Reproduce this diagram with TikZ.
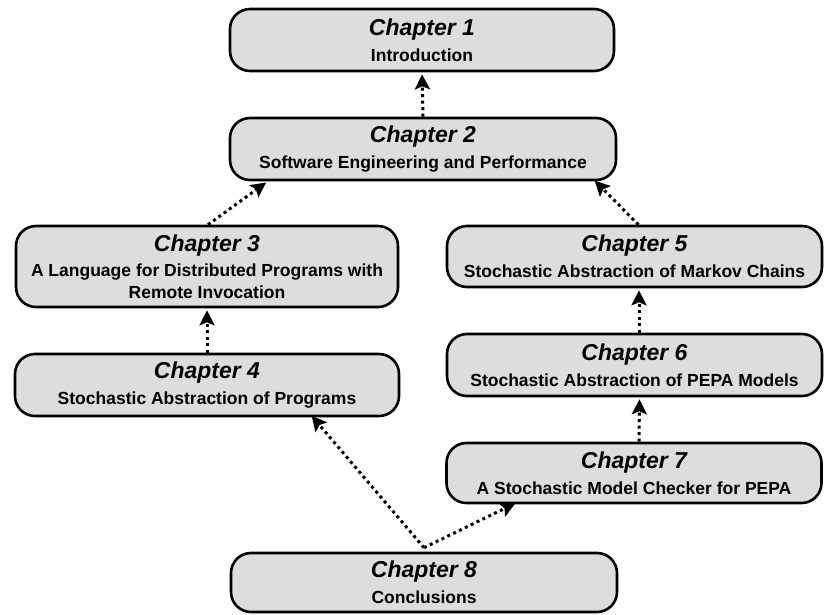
\documentclass[tikz,border=0pt]{standalone}
\usepackage{fontspec}
\setmainfont{Liberation Sans}
\usetikzlibrary{arrows.meta}
\definecolor{boxfill}{RGB}{221,221,221}
\newcommand\chaphead[1]{{\fontsize{23}{26}\selectfont\bfseries\itshape #1}}
\tikzset{
  chapbox/.style={draw=black, line width=2.6pt, rounded corners=20pt, fill=boxfill,
    align=center, inner sep=0pt, minimum width=#1,
    font=\fontsize{17.5}{22}\selectfont\bfseries},
  link/.style={line width=3pt, dash pattern=on 3pt off 3.5pt, shorten >=2pt,
    -{Stealth[length=15pt,width=15pt,inset=3pt]}},
}
\begin{document}
\begin{tikzpicture}[x=1pt,y=-1pt]
  \useasboundingbox (0,0) rectangle (824,614);
  % chapter boxes
  \node[chapbox=384, minimum height=62] (ch1) at (422,40)
    {\chaphead{Chapter 1}\\[4pt] Introduction};
  \node[chapbox=386, minimum height=62] (ch2) at (423,149)
    {\chaphead{Chapter 2}\\[4pt] Software Engineering and Performance};
  \node[chapbox=382, minimum height=81] (ch3) at (207,266.5)
    {\chaphead{Chapter 3}\\[3pt] A Language for Distributed Programs with\\ Remote Invocation};
  \node[chapbox=384, minimum height=62] (ch4) at (207,385)
    {\chaphead{Chapter 4}\\[4pt] Stochastic Abstraction of Programs};
  \node[chapbox=375, minimum height=61] (ch5) at (634.5,256.5)
    {\chaphead{Chapter 5}\\[4pt] Stochastic Abstraction of Markov Chains};
  \node[chapbox=375, minimum height=62] (ch6) at (634.5,365)
    {\chaphead{Chapter 6}\\[4pt] Stochastic Abstraction of PEPA Models};
  \node[chapbox=375, minimum height=60] (ch7) at (634,473)
    {\chaphead{Chapter 7}\\[4pt] A Stochastic Model Checker for PEPA};
  \node[chapbox=386, minimum height=59] (ch8) at (424,582.5)
    {\chaphead{Chapter 8}\\[4pt] Conclusions};
  % dependencies between chapters
  \coordinate (fork) at ([yshift=4pt]ch8.north);
  \draw[link] (ch2.north) -- (ch1.south);
  \draw[link] ([xshift=1pt]ch3.north) -- ([xshift=39pt]ch2.south west);
  \draw[link] ([xshift=4pt]ch5.north) -- ([xshift=-24pt,yshift=2pt]ch2.south east);
  \draw[link] (ch4.north) -- (ch3.south);
  \draw[link] ([xshift=4.5pt]ch6.north) -- ([xshift=4.5pt]ch5.south);
  \draw[link] ([xshift=5pt]ch7.north) -- ([xshift=5pt]ch6.south);
  \draw[link] (fork) -- ([xshift=-90pt,yshift=3pt]ch4.south east);
  \draw[link] (fork) -- ([xshift=72pt,yshift=2pt]ch7.south west);
\end{tikzpicture}
\end{document}
